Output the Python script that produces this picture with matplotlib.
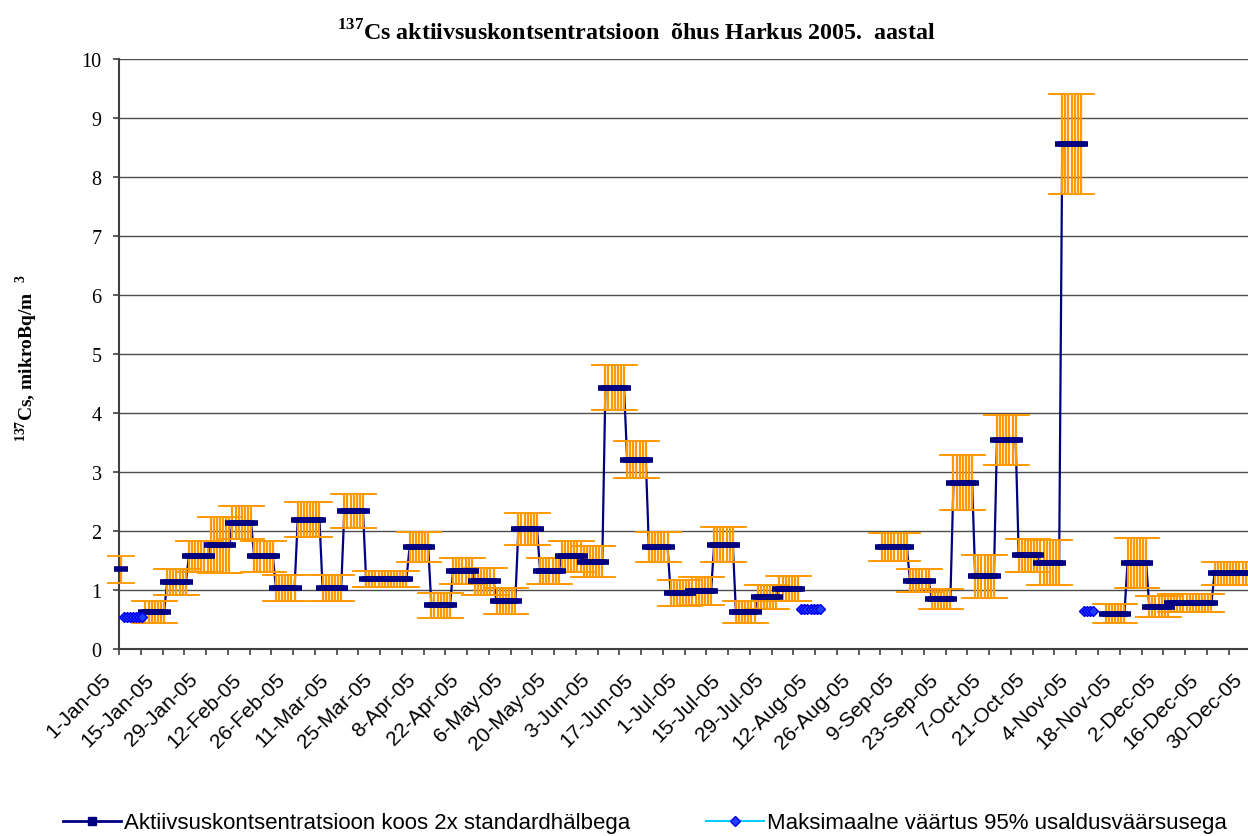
import numpy as np
import matplotlib.pyplot as plt
from matplotlib.lines import Line2D
from matplotlib.transforms import ScaledTranslation

plt.rcParams['font.family'] = 'Liberation Serif'
plt.rcParams['mathtext.fontset'] = 'custom'
plt.rcParams['mathtext.rm'] = 'Liberation Serif'
plt.rcParams['mathtext.bf'] = 'Liberation Serif:bold'

# weekly samples: first day (0 = 1-Jan-05), days covered, activity, 2 sigma
start = [0, 8, 15, 22, 29, 36, 43, 50, 57, 65, 72, 79, 86, 93, 100, 107, 114,
         121, 128, 135, 142, 149, 156, 163, 170, 177, 184, 191, 198, 205, 212,
         245, 254, 261, 268, 275, 282, 289, 296, 303, 317, 324, 331, 338, 345, 352]
ndays = [1, 7, 7, 7, 7, 7, 7, 7, 8, 7, 7, 7, 7, 7, 7, 7, 7,
         7, 7, 7, 7, 7, 7, 7, 7, 7, 7, 7, 7, 7, 7,
         9, 7, 7, 7, 7, 7, 7, 7, 7, 7, 7, 7, 7, 7, 13]
value = [1.35, 0.63, 1.13, 1.57, 1.76, 2.14, 1.57, 1.04, 2.19, 1.04, 2.34, 1.19, 1.19,
         1.73, 0.74, 1.33, 1.15, 0.81, 2.03, 1.33, 1.57, 1.48, 4.43, 3.21, 1.73,
         0.95, 0.98, 1.77, 0.63, 0.88, 1.02,
         1.73, 1.16, 0.85, 2.82, 1.23, 3.54, 1.59, 1.46, 8.56, 0.60, 1.46, 0.72,
         0.78, 0.78, 1.28]
err2s = [0.23, 0.19, 0.22, 0.26, 0.47, 0.28, 0.26, 0.22, 0.30, 0.22, 0.29, 0.14, 0.14,
         0.25, 0.21, 0.22, 0.23, 0.22, 0.27, 0.22, 0.26, 0.26, 0.38, 0.32, 0.25,
         0.22, 0.24, 0.29, 0.19, 0.21, 0.21,
         0.23, 0.19, 0.17, 0.47, 0.36, 0.42, 0.28, 0.38, 0.85, 0.16, 0.42, 0.17,
         0.15, 0.15, 0.20]

# weeks below detection limit: maximal value at 95 %
max_start = [1, 219, 310]
max_ndays = [7, 7, 4]
max_value = [0.55, 0.68, 0.65]

date_labels = ['1-Jan-05', '15-Jan-05', '29-Jan-05', '12-Feb-05', '26-Feb-05',
               '11-Mar-05', '25-Mar-05', '8-Apr-05', '22-Apr-05', '6-May-05',
               '20-May-05', '3-Jun-05', '17-Jun-05', '1-Jul-05', '15-Jul-05',
               '29-Jul-05', '12-Aug-05', '26-Aug-05', '9-Sep-05', '23-Sep-05',
               '7-Oct-05', '21-Oct-05', '4-Nov-05', '18-Nov-05', '2-Dec-05',
               '16-Dec-05', '30-Dec-05']

ncat = 366
x = np.arange(ncat)
act = np.full(ncat, np.nan)
sd = np.full(ncat, np.nan)
for s, n, v, e in zip(start, ndays, value, err2s):
    act[s:s + n] = v
    sd[s:s + n] = e
mx = np.full(ncat, np.nan)
for s, n, v in zip(max_start, max_ndays, max_value):
    mx[s:s + n] = v

fig = plt.figure(figsize=(12.48, 8.37), dpi=100)
ax = fig.add_axes([119 / 1248, 1 - 650 / 837, 1137.5 / 1248, 590 / 837])

navy = '#000080'
orange = '#FF9900'
ok = ~np.isnan(act)
ax.plot(x, act, color=navy, lw=1.6, zorder=3)
eb = ax.errorbar(x[ok], act[ok], yerr=sd[ok], fmt='none', ecolor=orange,
                 elinewidth=1.6, capsize=10, capthick=1.3, zorder=4)
for part in eb.lines[1] + eb.lines[2]:
    part.set_clip_on(False)
ax.plot(x, act, ls='none', marker='_', ms=10.5, mew=4, color=navy, zorder=5,
        clip_on=False)
ax.plot(x, mx, color='#00CCFF', lw=1, marker='D', ms=5.5,
        mfc='#1f3fff', mec='#0000ee', mew=1, zorder=6, clip_on=False)

# tick marks every 7 days, date labels every 14 days
ax.set_xticks(np.arange(-0.5, 364, 7))
ax.set_xticklabels([])
ax.tick_params(axis='x', direction='out', length=4.5, width=1.2, color='#404040')
ax.tick_params(axis='y', direction='out', length=4.5, width=1.2,
               color='#404040', labelsize=14.5, pad=8)
lab_tr = ax.get_xaxis_transform() + ScaledTranslation(-11 / 100, -27 / 100,
                                                      fig.dpi_scale_trans)
for i, lab in enumerate(date_labels):
    ax.text(14 * i - 0.5, 0, lab, transform=lab_tr, rotation=45, ha='right',
            va='center', rotation_mode='anchor', family='Liberation Sans',
            fontsize=15, clip_on=False)

ax.set_xlim(-0.5, ncat - 0.5)
ax.set_ylim(0, 10)
ax.set_yticks(range(0, 11))
ax.yaxis.grid(True, color='#4d4d4d', lw=1.0)
ax.set_axisbelow(True)

for side in ['top', 'right']:
    ax.spines[side].set_visible(False)
for side in ['left', 'bottom']:
    ax.spines[side].set_color('#404040')
    ax.spines[side].set_linewidth(1.5)

fig.text(636 / 1248, 1 - 33 / 837,
         r'$^{\mathbf{137}}$Cs aktiivsuskontsentratsioon  õhus Harkus 2005.  aastal',
         ha='center', va='center', fontsize=17.3, fontweight='bold')
fig.text(27 / 1248, 1 - 358 / 837, r'$^{\mathbf{137}}$Cs, mikroBq/m  $^{\mathbf{3}}$',
         ha='center', va='center', rotation=90, fontsize=14, fontweight='bold')

handles = [Line2D([], [], color=navy, lw=2, marker='s', ms=6),
           Line2D([], [], color='#00CCFF', lw=1.5, marker='D', ms=5,
                  mfc='#1f3fff', mec='#0000ee')]
fig.legend(handles, ['Aktiivsuskontsentratsioon koos 2x standardhälbega',
                     'Maksimaalne väärtus 95% usaldusväärsusega'],
           loc='center', bbox_to_anchor=(645 / 1248, 1 - 824 / 837), ncol=2,
           frameon=False, handlelength=2.6, handletextpad=0.15,
           columnspacing=3.4, prop={'family': 'Liberation Sans', 'size': 16})

fig.savefig('out.png', dpi=100)
